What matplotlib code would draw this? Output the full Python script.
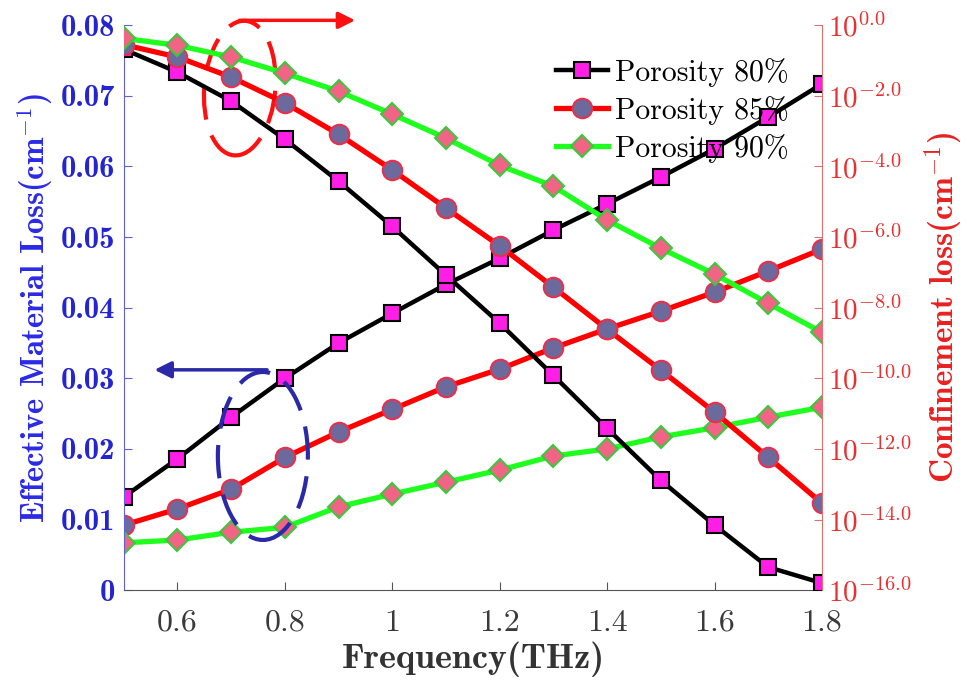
import numpy as np
import matplotlib
matplotlib.use('Agg')
import matplotlib.pyplot as plt
from matplotlib.patches import Ellipse
from matplotlib.transforms import ScaledTranslation
from matplotlib.ticker import FixedLocator, FuncFormatter, NullLocator

plt.rcParams['mathtext.fontset'] = 'cm'
plt.rcParams['axes.formatter.use_mathtext'] = True

freq = [0.5, 0.6, 0.7, 0.8, 0.9, 1.0, 1.1, 1.2, 1.3, 1.4, 1.5, 1.6, 1.7, 1.8]

# effective material loss (cm^-1), left axis
eml_80 = [0.0132, 0.0186, 0.0245, 0.0300, 0.0350, 0.0392, 0.0433, 0.0470,
          0.0510, 0.0547, 0.0585, 0.0625, 0.0670, 0.0717]
eml_85 = [0.0092, 0.0115, 0.0143, 0.0188, 0.0224, 0.0256, 0.0288, 0.0313,
          0.0343, 0.0370, 0.0395, 0.0422, 0.0452, 0.0483]
eml_90 = [0.0067, 0.0071, 0.0082, 0.0089, 0.0118, 0.0136, 0.0153, 0.0170,
          0.0190, 0.0200, 0.0217, 0.0230, 0.0245, 0.0259]

# confinement loss, log10 of cm^-1, right axis
cl_80 = [-0.68, -1.33, -2.15, -3.23, -4.42, -5.70, -7.08, -8.44,
         -9.92, -11.42, -12.89, -14.16, -15.35, -15.80]
cl_85 = [-0.55, -0.90, -1.47, -2.20, -3.09, -4.10, -5.18, -6.25,
         -7.42, -8.61, -9.77, -10.96, -12.24, -13.54]
cl_90 = [-0.37, -0.57, -0.90, -1.36, -1.87, -2.52, -3.20, -3.97,
         -4.56, -5.52, -6.32, -7.05, -7.88, -8.70]

labels = ['Porosity 80%', 'Porosity 85%', 'Porosity 90%']
right_ticks = [0, -2, -4, -6, -8, -10, -12, -14, -16]

styles = [
    dict(color='black', lw=3.2, marker='s', ms=11, mfc='#ff1ee6', mec='black', mew=1.5),
    dict(color='#ff0000', lw=3.8, marker='o', ms=14, mfc='#6c6a9c', mec='#e8304c', mew=1.5),
    dict(color='#1eff1e', lw=3.8, marker='D', ms=11, mfc='#f26486', mec='#3cc83c', mew=1.5),
]

fig = plt.figure(figsize=(9.67, 6.83), dpi=100)
ax = fig.add_axes([0.128, 0.136, 0.722, 0.827])
ax2 = ax.twinx()

handles = []
for ys, st, lab in zip([eml_80, eml_85, eml_90], styles, labels):
    h, = ax.plot(freq, ys, label=lab, **st)
    handles.append(h)
for ys, st in zip([cl_80, cl_85, cl_90], styles):
    ax2.plot(freq, 10.0 ** np.array(ys), **st)

ax.set_xlim(0.5, 1.8)
ax.set_ylim(0, 0.08)
ax2.set_yscale('log')
ax2.set_ylim(1e-16, 1)

ax.xaxis.set_major_locator(FixedLocator([0.6, 0.8, 1.0, 1.2, 1.4, 1.6, 1.8]))
ax.xaxis.set_major_formatter(FuncFormatter(lambda v, p: '%g' % v))
ax.yaxis.set_major_locator(FixedLocator(np.arange(0, 0.081, 0.01)))
ax.yaxis.set_major_formatter(FuncFormatter(lambda v, p: '%g' % round(v, 3)))
ax2.yaxis.set_major_locator(FixedLocator([10.0 ** t for t in right_ticks]))
ax2.yaxis.set_minor_locator(NullLocator())
ax2.yaxis.set_major_formatter(FuncFormatter(
    lambda v, p: r'$10^{%.1f}$' % np.log10(v) if v < 1 else r'$10^{0.0}$'))

for lab in ax.get_xticklabels():
    lab.set_fontfamily('cmr10')
    lab.set_fontsize(23)
    lab.set_color('#3a3a3a')
for lab in ax.get_yticklabels():
    lab.set_fontfamily('cmb10')
    lab.set_fontsize(22)
    lab.set_color('#2424d0')
for lab in ax2.get_yticklabels():
    lab.set_fontsize(21)
    lab.set_color('#e83030')

ax.tick_params(axis='x', direction='in', length=6, color='#555555', pad=14)
ax.tick_params(axis='y', direction='in', length=6, color='#6060d8', pad=6)
ax2.tick_params(axis='y', direction='in', length=6, color='#e07070', pad=4)

for s in ['top', 'right']:
    ax.spines[s].set_visible(False)
for s in ['top', 'left', 'bottom']:
    ax2.spines[s].set_visible(False)
ax.spines['left'].set_color('#6060d8')
ax.spines['bottom'].set_color('#555555')
ax2.spines['right'].set_color('#e07070')

ax.set_xlabel('Frequency(THz)', fontfamily='cmb10', fontsize=26, color='#333333', labelpad=3)
ax.set_ylabel(r'Effective Material Loss(cm$^{\mathbf{-1}}$)', fontfamily='cmb10',
              fontsize=23.5, color='#2a2ae6', labelpad=4)
ax2.set_ylabel(r'Confinement loss(cm$^{\mathbf{-1}}$)', fontfamily='cmb10',
               fontsize=24, color='#e82020', labelpad=8)

ax2.legend(handles, labels, loc='upper left', bbox_to_anchor=(0.58, 0.99), frameon=False,
           prop={'family': 'cmr10', 'size': 21.5}, handlelength=1.75, handletextpad=0.25,
           labelspacing=0.3)

# annotations: dashed ellipses (sized in inches, placed at data points) and arrows
ell_red = Ellipse((0, 0), 0.71, 1.35, angle=-5, fill=False, ec='#ff1010', lw=3,
                  ls=(0, (8, 4)), clip_on=False, zorder=5,
                  transform=fig.dpi_scale_trans + ScaledTranslation(0.716, 0.0711, ax.transData))
ax.add_patch(ell_red)
ax.annotate('', xy=(0.936, 0.0807), xytext=(0.71, 0.0807), annotation_clip=False,
            arrowprops=dict(arrowstyle='-|>', color='#ff1010', lw=2.5, mutation_scale=25))
ell_blue = Ellipse((0, 0), 0.90, 1.68, angle=0, fill=False, ec='#2a2aa8', lw=3,
                   ls=(0, (8, 4)), clip_on=False, zorder=5,
                   transform=fig.dpi_scale_trans + ScaledTranslation(0.759, 0.0190, ax.transData))
ax.add_patch(ell_blue)
ax.annotate('', xy=(0.552, 0.0312), xytext=(0.772, 0.0312), annotation_clip=False,
            arrowprops=dict(arrowstyle='-|>', color='#2a2aa8', lw=2.5, mutation_scale=25))

fig.savefig('out.png', dpi=100)
